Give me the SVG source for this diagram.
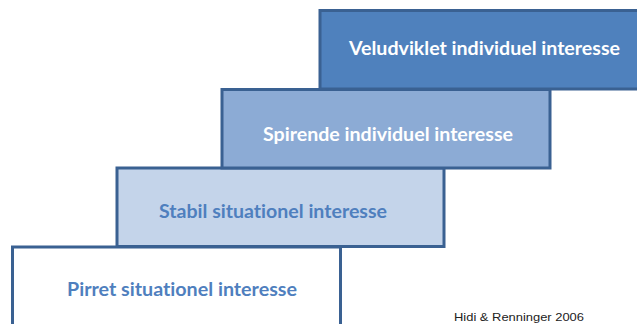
<svg xmlns="http://www.w3.org/2000/svg" width="637" height="324" viewBox="0 0 637 324">
  <style>
    .step { stroke: #3a6192; stroke-width: 3; }
    .label { font-family: Lato, "Liberation Sans", sans-serif; font-weight: bold; font-size: 19px; font-variant-ligatures: none; }
    .light { fill: #ffffff; }
    .dark { fill: #4f7fbe; }
    .cite { font-family: "Liberation Sans", sans-serif; font-size: 11px; fill: #222222; }
  </style>
  <rect width="637" height="324" fill="#ffffff"/>

  <!-- level 1: bottom step -->
  <g id="pirret">
    <rect class="step" x="12.5" y="247" width="328" height="100" fill="#ffffff"/>
    <text class="label dark" x="67" y="296" textLength="230" lengthAdjust="spacingAndGlyphs">Pirret situationel interesse</text>
  </g>

  <!-- level 2 -->
  <g id="stabil">
    <rect class="step" x="117" y="168" width="327" height="78.5" fill="#c4d4ea"/>
    <text class="label dark" x="159" y="218" textLength="228" lengthAdjust="spacingAndGlyphs">Stabil situationel interesse</text>
  </g>

  <!-- level 3 -->
  <g id="spirende">
    <rect class="step" x="222" y="89.5" width="328" height="78.5" fill="#8cabd5"/>
    <text class="label light" x="263" y="140.5" textLength="250" lengthAdjust="spacingAndGlyphs">Spirende individuel interesse</text>
  </g>

  <!-- level 4: top step -->
  <g id="veludviklet">
    <rect class="step" x="320" y="10.5" width="340" height="78.5" fill="#4f81bd"/>
    <text class="label light" x="349" y="54.5" textLength="271" lengthAdjust="spacingAndGlyphs">Veludviklet individuel interesse</text>
  </g>

  <g id="connectors"/>

  <text class="cite" x="454" y="320.5" textLength="130" lengthAdjust="spacingAndGlyphs">Hidi &amp; Renninger 2006</text>
</svg>
